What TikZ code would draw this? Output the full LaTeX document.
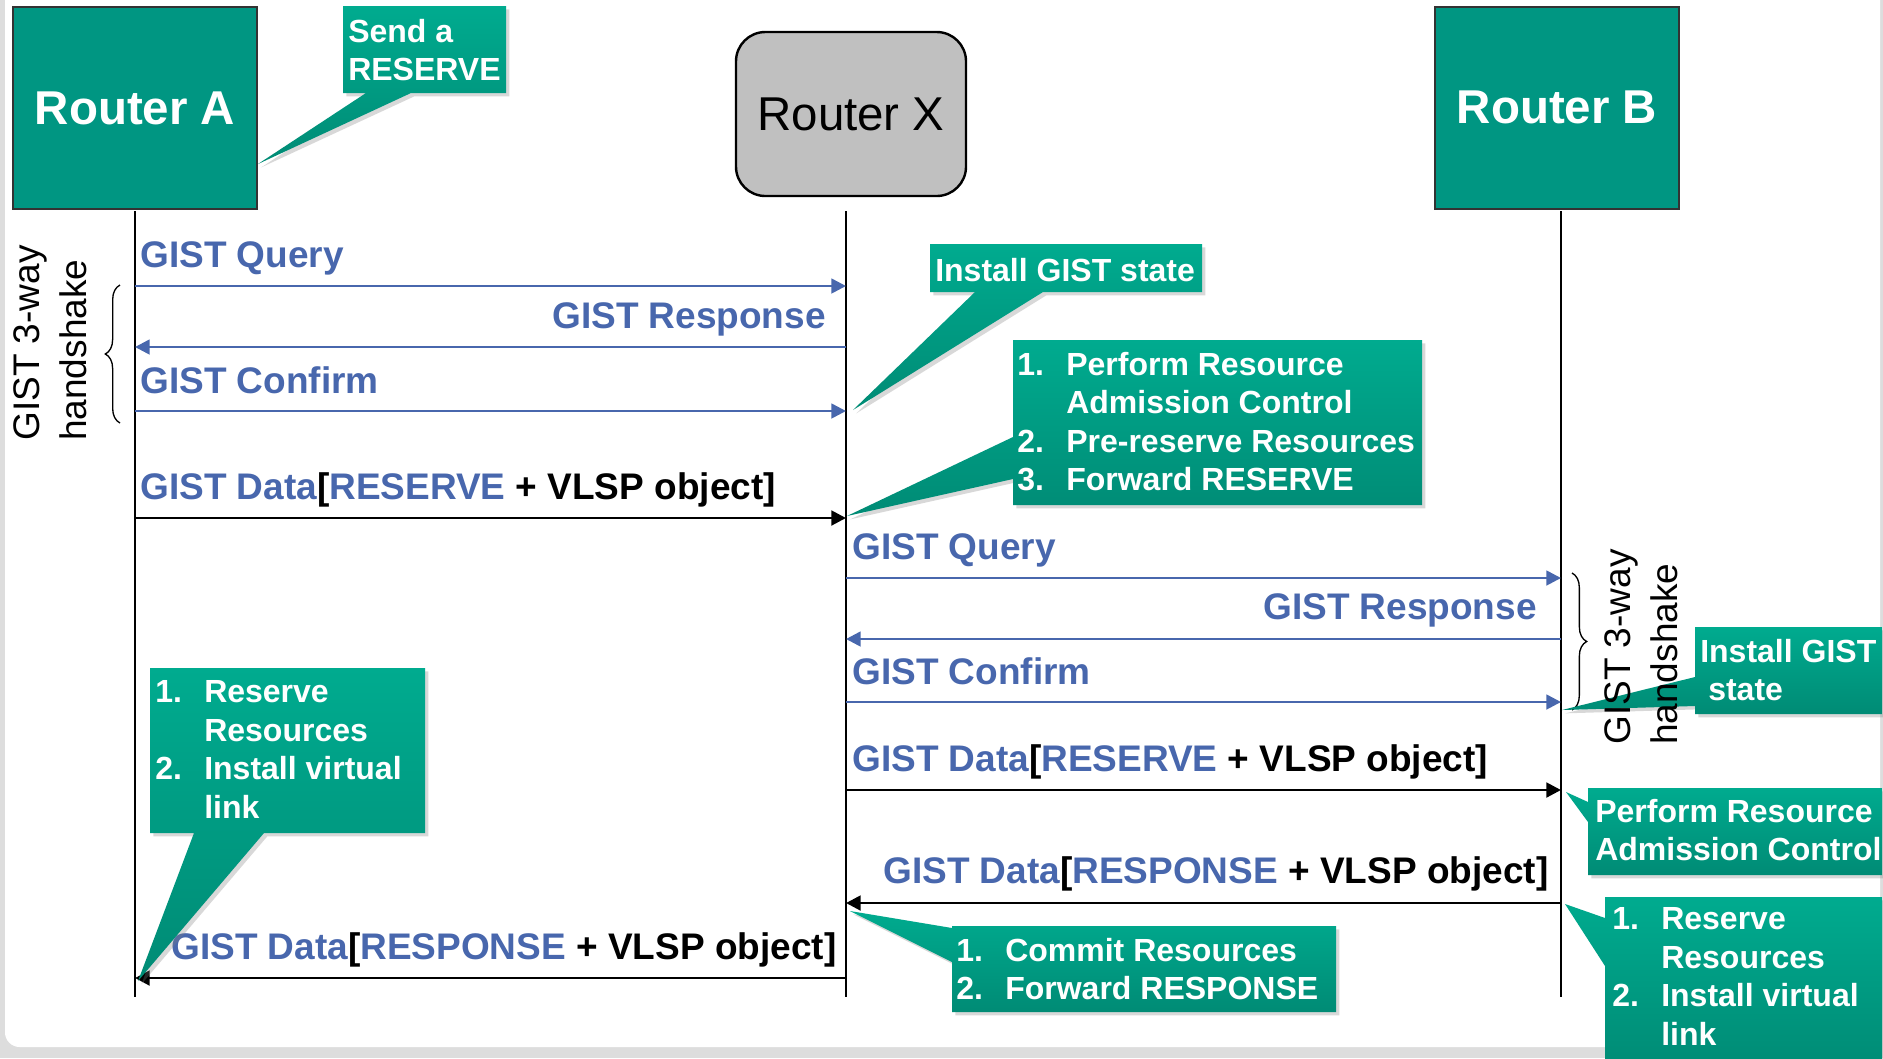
\documentclass[tikz,border=0pt]{standalone}
\usepackage{fontspec}
\setmainfont{Liberation Sans}
\usetikzlibrary{arrows.meta,decorations.pathreplacing,shadows}

\definecolor{routerteal}{RGB}{0,150,130}
\definecolor{calltop}{RGB}{0,171,143}
\definecolor{callbot}{RGB}{0,139,117}
\definecolor{gistblue}{RGB}{72,103,173}
\definecolor{routergray}{RGB}{192,192,192}
\definecolor{framegray}{RGB}{221,221,221}

\newcommand{\gb}[1]{\textcolor{gistblue}{#1}}
\newcommand{\nr}[1]{\makebox[36.75pt][l]{#1}}

\tikzset{
  router/.style={draw=black!80, line width=1.5pt, fill=routerteal, text=white,
    font=\fontsize{35.6}{40}\selectfont\bfseries,
    minimum width=183pt, minimum height=151.5pt, inner sep=0pt},
  routerx/.style={draw=black, line width=1.8pt, fill=routergray, rounded corners=22pt,
    font=\fontsize{35.6}{40}\selectfont,
    minimum width=172.5pt, minimum height=123pt, inner sep=0pt},
  life/.style={line width=1.5pt},
  gist/.style={draw=gistblue, line width=2pt, -{Triangle[length=11pt,width=11pt]}},
  data/.style={draw=black, line width=2.2pt, -{Triangle[length=11pt,width=11pt]}},
  msg/.style={font=\fontsize{27.75}{33}\selectfont\bfseries, text=gistblue, inner sep=0pt},
  datamsg/.style={msg, text=black},
  brc/.style={decorate, decoration={brace, amplitude=11pt}, line width=1pt},
  hand/.style={rotate=90, align=left, anchor=north west, inner sep=0pt,
    font=\fontsize{27.75}{35.25}\selectfont},
  bubble/.style={top color=calltop, bottom color=callbot,
    drop shadow={shadow xshift=2.5pt, shadow yshift=-2.5pt, opacity=0.3}},
  bubtxt/.style={text=white, font=\fontsize{24}{28.9}\selectfont\bfseries,
    align=left, inner sep=0pt, anchor=north west}
}

\begin{document}
\begin{tikzpicture}[x=0.75pt,y=-0.75pt]
\useasboundingbox (0,0) rectangle (1883,1058);

% Frame
\fill[framegray] (0,0) rectangle (1883,1058);
\fill[white, rounded corners=11pt] (5,-40) rectangle (1880,1047);

% Routers
\node[router] (RA) at (135,108) {Router A};
\node[routerx] (RX) at (851,114) {Router X};
\node[router] (RB) at (1557,107.5) {Router B};

% Lifelines
\foreach \l/\x in {A/135, X/846, B/1561}{
  \coordinate (top\l) at (\x,211);
  \coordinate (bot\l) at (\x,997);
  \draw[life] (top\l) -- (bot\l);
}

% Message ends
\foreach \n/\y in {1/286, 2/347, 3/411, 4/518, 5/978}{
  \coordinate (a\n) at (135,\y);
  \coordinate (x\n) at (846,\y);
}
\foreach \n/\y in {6/578, 7/639, 8/702, 9/790, 10/903}{
  \coordinate (x\n) at (846,\y);
  \coordinate (b\n) at (1561,\y);
}

% A <-> X
\draw[gist] (a1) -- (x1);
\draw[gist] (x2) -- (a2);
\draw[gist] (a3) -- (x3);
\draw[data] (a4) -- (x4);
\draw[data] (x5) -- (a5);

% X <-> B
\draw[gist] (x6) -- (b6);
\draw[gist] (b7) -- (x7);
\draw[gist] (x8) -- (b8);
\draw[data] (x9) -- (b9);
\draw[data] (b10) -- (x10);

% Message labels
\node[msg, anchor=base west] (q1) at (140,267) {GIST Query};
\node[msg, anchor=base east] (r1) at (826,328) {GIST Response};
\node[msg, anchor=base west] (c1) at (140,393) {GIST Confirm};
\node[datamsg, anchor=base west] (d1) at (140,499) {\gb{GIST Data}[\gb{RESERVE} + VLSP object]};
\node[datamsg, anchor=base west] (p1) at (171,959) {\gb{GIST Data}[\gb{RESPONSE} + VLSP object]};
\node[msg, anchor=base west] (q2) at (852,559) {GIST Query};
\node[msg, anchor=base east] (r2) at (1537,619) {GIST Response};
\node[msg, anchor=base west] (c2) at (852,684) {GIST Confirm};
\node[datamsg, anchor=base west] (d2) at (852,771) {\gb{GIST Data}[\gb{RESERVE} + VLSP object]};
\node[datamsg, anchor=base west] (p2) at (883,883) {\gb{GIST Data}[\gb{RESPONSE} + VLSP object]};

% Braces
\draw[brc] (120,423) -- (120,285);
\draw[brc] (1572,573) -- (1572,710);

% Callouts
\coordinate (t1) at (258,164);
\coordinate (t2) at (853,410);
\coordinate (t3) at (847,516);
\coordinate (t4) at (1562,710);
\coordinate (t5) at (1566,792);
\coordinate (t6) at (1565,904);
\coordinate (t7) at (850,911);
\coordinate (t8) at (138,981);

\path[bubble] (343,6) -- (506,6) -- (506,93) -- (411,93) -- (t1) -- (366,93) -- (343,93) -- cycle;
\path[bubble] (930,244) -- (1202,244) -- (1202,292) -- (1043,292) -- (t2) -- (975,292) -- (930,292) -- cycle;
\path[bubble] (1013,340) -- (1422,340) -- (1422,505) -- (1013,505) -- (1013,479) -- (t3) -- (1013,437) -- cycle;
\path[bubble] (1695,627) -- (1882,627) -- (1882,714) -- (1695,714) -- (1695,706) -- (t4) -- (1695,677) -- cycle;
\path[bubble] (1588,788) -- (1882,788) -- (1882,875) -- (1588,875) -- (1588,822) -- (t5) -- (1588,802) -- cycle;
\path[bubble] (1605,897) -- (1882,897) -- (1882,1070) -- (1605,1070) -- (1605,966) -- (t6) -- (1605,918) -- cycle;
\path[bubble] (952,926) -- (1336,926) -- (1336,1012) -- (952,1012) -- (952,962) -- (t7) -- (952,928) -- cycle;
\path[bubble] (150,668) -- (425,668) -- (425,833) -- (264,833) -- (t8) -- (194,833) -- (150,833) -- cycle;

\node[bubtxt] (s1) at (348,18.6) {Send a\\RESERVE};
\node[bubtxt] (s2) at (935,257.6) {Install GIST state};
\node[bubtxt] (s3) at (1017,351.6) {\nr{1.}Perform Resource\\\nr{}Admission Control\\\nr{2.}Pre-reserve Resources\\\nr{3.}Forward RESERVE};
\node[bubtxt] (s4) at (1700,638.6) {Install GIST\\\hspace*{6pt}state};
\node[bubtxt] (s5) at (1595,798.6) {Perform Resource\\Admission Control};
\node[bubtxt] (s6) at (1612,907.6) {\nr{1.}Reserve\\\nr{}Resources\\\nr{2.}Install virtual\\\nr{}link};
\node[bubtxt] (s7) at (956,937.6) {\nr{1.}Commit Resources\\\nr{2.}Forward RESPONSE};
\node[bubtxt] (s8) at (155,680.6) {\nr{1.}Reserve\\\nr{}Resources\\\nr{2.}Install virtual\\\nr{}link};

% Handshake labels
\node[hand] (hsA) at (13,441) {GIST 3-way\\handshake};
\node[hand] (hsB) at (1604,745) {GIST 3-way\\handshake};

\end{tikzpicture}
\end{document}
